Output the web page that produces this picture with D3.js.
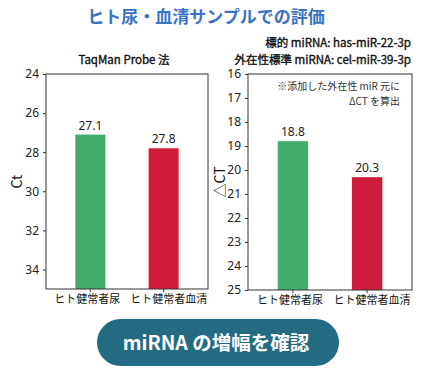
<!DOCTYPE html>
<html>
<head>
<meta charset="utf-8">
<script src="https://cdnjs.cloudflare.com/ajax/libs/d3/7.8.5/d3.min.js"></script>
<style>
  html, body { margin: 0; padding: 0; background: #fff; }
  svg { display: block; }
  text { font-family: "Noto Sans CJK JP", "Noto Sans", sans-serif; }
</style>
</head>
<body>
<div id="chart"></div>
<script>
// data
var categories = ['ヒト健常者尿', 'ヒト健常者血清'];
var barColors = ['#43ab6b', '#d01c3b'];
var ctValues = [27.1, 27.8];
var ctTicks = [24, 26, 28, 30, 32, 34];
var dctValues = [18.8, 20.3];
var dctTicks = [16, 17, 18, 19, 20, 21, 22, 23, 24, 25];

var width = 437, height = 379;
var labelShift = [-3, 5];

var svg = d3.select('#chart').append('svg')
    .attr('width', width)
    .attr('height', height);

// main title
svg.append('text')
    .attr('x', 206)
    .attr('y', 23)
    .attr('text-anchor', 'middle')
    .attr('font-size', 17)
    .attr('font-weight', 'bold')
    .attr('fill', '#3a72c4')
    .text('ヒト尿・血清サンプルでの評価');

var drawPanel = function ( opts ) {
    var x = d3.scaleBand()
        .domain( categories )
        .range( [opts.left, opts.right] )
        .paddingInner( 0.59 )
        .paddingOuter( 0.4 );
    var y = d3.scaleLinear()
        .domain( opts.domain )
        .range( [opts.top, opts.bottom] );

    var g = svg.append('g');

    // bars
    g.selectAll('rect.bar')
        .data( opts.values )
        .enter()
        .append('rect')
        .attr('class', 'bar')
        .attr('x', function ( d, i ) { return x( categories[i] ); })
        .attr('y', function ( d ) { return y( d ); })
        .attr('width', x.bandwidth())
        .attr('height', function ( d ) { return opts.bottom - y( d ); })
        .attr('fill', function ( d, i ) { return barColors[i]; });

    // value labels
    g.selectAll('text.val')
        .data( opts.values )
        .enter()
        .append('text')
        .attr('class', 'val')
        .attr('x', function ( d, i ) { return x( categories[i] ) + x.bandwidth() / 2; })
        .attr('y', function ( d ) { return y( d ) - 5; })
        .attr('text-anchor', 'middle')
        .attr('font-size', 12)
        .attr('fill', '#222')
        .style('font-family', '"Noto Sans", sans-serif')
        .text( function ( d ) { return d.toFixed( 1 ); });

    // frame
    g.append('rect')
        .attr('x', opts.left)
        .attr('y', opts.top)
        .attr('width', opts.right - opts.left)
        .attr('height', opts.bottom - opts.top)
        .attr('fill', 'none')
        .attr('stroke', '#333')
        .attr('stroke-width', 1);

    // y axis
    var yAxis = g.append('g')
        .attr('transform', 'translate(' + opts.left + ',0)')
        .call( d3.axisLeft( y ).tickValues( opts.ticks ).tickSize( 3 ).tickPadding( 4 ) );
    yAxis.select('.domain').remove();
    yAxis.selectAll('text')
        .attr('font-size', 12)
        .attr('fill', '#222')
        .style('font-family', '"Noto Sans", sans-serif');
    yAxis.selectAll('line').attr('stroke', '#333');

    // x axis
    var xAxis = g.append('g')
        .attr('transform', 'translate(0,' + opts.bottom + ')')
        .call( d3.axisBottom( x ).tickSize( 3 ).tickPadding( 3 ) );
    xAxis.select('.domain').remove();
    xAxis.selectAll('text')
        .attr('font-size', 11)
        .attr('fill', '#111')
        .attr('dx', function ( d, i ) { return labelShift[i]; });
    xAxis.selectAll('line').attr('stroke', '#333');

    // y label
    g.append('text')
        .attr('transform', 'translate(' + opts.labelX + ',' + ((opts.top + opts.bottom) / 2) + ') rotate(-90)')
        .attr('text-anchor', 'middle')
        .attr('font-size', 14)
        .attr('fill', '#111')
        .text( opts.label );
};

drawPanel({
    left: 46, right: 208, top: 74, bottom: 289,
    domain: [24, 35],
    values: ctValues,
    ticks: ctTicks,
    label: 'Ct',
    labelX: 22
});

drawPanel({
    left: 248, right: 412, top: 74, bottom: 290,
    domain: [16, 25],
    values: dctValues,
    ticks: dctTicks,
    label: '△CT',
    labelX: 225
});

// panel titles (slight stroke for a medium weight)
var titleText = function ( x, y, anchor, str ) {
    svg.append('text')
        .attr('x', x)
        .attr('y', y)
        .attr('text-anchor', anchor)
        .attr('font-size', 11.5)
        .attr('fill', '#111')
        .attr('stroke', '#111')
        .attr('stroke-width', 0.35)
        .text( str );
};
titleText( 124, 64, 'middle', 'TaqMan Probe 法' );
titleText( 411, 47, 'end', '標的 miRNA: has-miR-22-3p' );
titleText( 411, 64, 'end', '外在性標準 miRNA: cel-miR-39-3p' );

// annotation
svg.append('text')
    .attr('x', 400)
    .attr('y', 90)
    .attr('text-anchor', 'end')
    .attr('font-size', 10)
    .attr('fill', '#333')
    .text('※添加した外在性 miR 元に');
svg.append('text')
    .attr('x', 400)
    .attr('y', 105)
    .attr('text-anchor', 'end')
    .attr('font-size', 10)
    .attr('fill', '#333')
    .text('ΔCT を算出');

// button
svg.append('rect')
    .attr('x', 97)
    .attr('y', 319)
    .attr('width', 242)
    .attr('height', 47)
    .attr('rx', 23.5)
    .attr('ry', 23.5)
    .attr('fill', '#236b82');
svg.append('text')
    .attr('x', 216)
    .attr('y', 350)
    .attr('text-anchor', 'middle')
    .attr('font-size', 19.5)
    .attr('font-weight', 'bold')
    .attr('fill', '#fff')
    .text('miRNA の増幅を確認');
</script>
</body>
</html>
